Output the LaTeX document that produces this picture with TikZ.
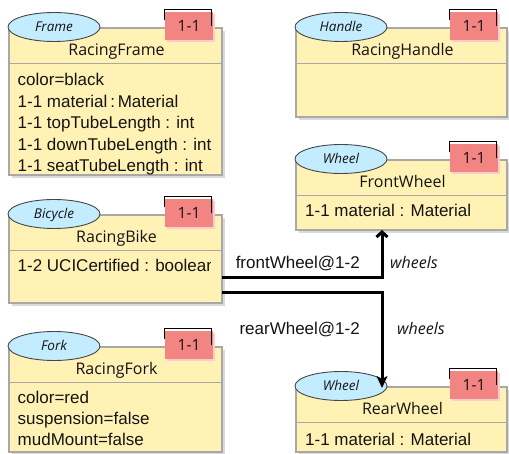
\documentclass[tikz,border=0pt]{standalone}
\usepackage{fontspec}
\setmainfont{Liberation Sans}
\newfontfamily\headfont{Open Sans}
\usetikzlibrary{arrows.meta,calc,shapes.geometric}

\definecolor{boxfill}{RGB}{255,242,180}
\definecolor{boxline}{RGB}{168,168,168}
\definecolor{shadowgray}{RGB}{218,218,218}
\definecolor{stereofill}{RGB}{196,236,255}
\definecolor{stereoline}{RGB}{70,70,70}
\definecolor{badgered}{RGB}{242,132,130}
\definecolor{badgeshade}{RGB}{250,205,205}
\definecolor{ink}{RGB}{20,20,20}

\tikzset{
  classbox/.style={draw=boxline, line width=1.6pt, fill=boxfill, inner sep=0pt, outer sep=0pt},
  sepline/.style={draw=boxline, line width=1.6pt},
  stereotype/.style={ellipse, draw=stereoline, line width=0.9pt, fill=stereofill,
    minimum width=92pt, minimum height=29pt, inner sep=0pt, text=ink,
    font=\headfont\itshape\fontsize{13.5}{15}\selectfont, text height=9pt, text depth=0pt},
  badge/.style={fill=badgered, minimum width=48pt, minimum height=28pt, inner sep=0pt,
    text=ink, font=\headfont\fontsize{15.5}{17}\selectfont, text height=11pt, text depth=0pt},
  classtitle/.style={inner sep=0pt, text=ink, font=\headfont\fontsize{16}{18}\selectfont,
    text height=11.5pt, text depth=0pt},
  attr/.style={anchor=west, inner sep=0pt, text=ink, font=\fontsize{17}{20}\selectfont,
    text height=12pt, text depth=0pt},
  rolename/.style={inner sep=0pt, text=ink, font=\fontsize{17}{20}\selectfont,
    text height=12pt, text depth=0pt, anchor=east},
  endname/.style={inner sep=0pt, text=ink, font=\headfont\itshape\fontsize{16}{18}\selectfont,
    text height=11.5pt, text depth=0pt, anchor=west},
  assoc/.style={draw=black, line width=3pt},
}

% #1 name, #2 left, #3 top, #4 right, #5 bottom, #6 stereotype, #7 class name
\newcommand{\umlclass}[7]{%
  \fill[shadowgray] ({#2+3},{#3+3}) rectangle ({#4+3},{#5+3});
  \node[classbox, minimum width={#4-#2}, minimum height={#5-#3}] (#1) at ({(#2+#4)/2},{(#3+#5)/2}) {};
  \draw[sepline] ($(#1.north west)+(0,35.5)$) -- ($(#1.north east)+(0,35.5)$);
  \fill[badgeshade] ({#4-57+2},{#3-16+2}) rectangle ({#4-9+2},{#3+12+2});
  \node[badge] (#1-mult) at ({#4-33},{#3-2}) {1-1};
  \draw[black, line width=1pt] ($(#1-mult.north west)+(0,8)$) -- ($(#1-mult.north west)+(0,-2)$)
    -- ($(#1-mult.north east)+(-2,-2)$) -- ($(#1-mult.north east)+(-2,14)$);
  \node[stereotype] (#1-st) at ({#2+45},{#3-1}) {#6};
  \node[classtitle] (#1-name) at ({(#2+#4)/2+1},{#3+21.5}) {#7};
}

\begin{document}
\begin{tikzpicture}[x=1pt, y=-1pt]
\useasboundingbox (0,0) rectangle (509,454);

% left column
\umlclass{frame}{9}{28}{222}{175}{Frame}{RacingFrame}
\node[attr] (frame-a1) at (17.5,80)  {color=black};
\node[attr] (frame-a2) at (17.5,101.5) {1-1 material\,:\,Material};
\node[attr] (frame-a3) at (17.5,123) {1-1 topTubeLength : int};
\node[attr] (frame-a4) at (17.5,144.5) {1-1 downTubeLength : int};
\node[attr] (frame-a5) at (17.5,166) {1-1 seatTubeLength : int};

\umlclass{bike}{9}{215}{222}{303}{Bicycle}{RacingBike}
\begin{scope}
  \clip (10,252) rectangle (210.5,302);
  \node[attr] (bike-a1) at (17.5,266) {1-2 UCICertified : boolean};
\end{scope}

\umlclass{fork}{9}{347}{222}{452}{Fork}{RacingFork}
\node[attr] (fork-a1) at (17.5,397) {color=red};
\node[attr] (fork-a2) at (17.5,418.5) {suspension=false};
\node[attr] (fork-a3) at (17.5,440) {mudMount=false};

% right column
\umlclass{handle}{296}{28}{507}{117}{Handle}{RacingHandle}

\umlclass{front}{296}{160}{507}{230}{Wheel}{FrontWheel}
\node[attr] (front-a1) at (305,211) {1-1 material : Material};

\umlclass{rear}{296}{387}{507}{452}{Wheel}{RearWheel}
\node[attr] (rear-a1) at (305,440) {1-1 material : Material};

% associations from the bike to its wheels
\draw[assoc, -{Straight Barb[length=5pt, width=11pt]}]
  ($(bike.east)+(0,19)$) -| ($(front.south west)+(86,0)$);
\draw[assoc, -{Stealth[length=12pt, width=11pt, inset=3pt]}]
  ($(bike.east)+(0,34)$) -| ($(rear.north west)+(86,1)$);

\node[rolename] (front-role) at (360,263) {frontWheel@1-2};
\node[endname]  (front-end)  at (390,263) {wheels};
\node[rolename] (rear-role)  at (360,329) {rearWheel@1-2};
\node[endname]  (rear-end)   at (397,329) {wheels};
\end{tikzpicture}
\end{document}
